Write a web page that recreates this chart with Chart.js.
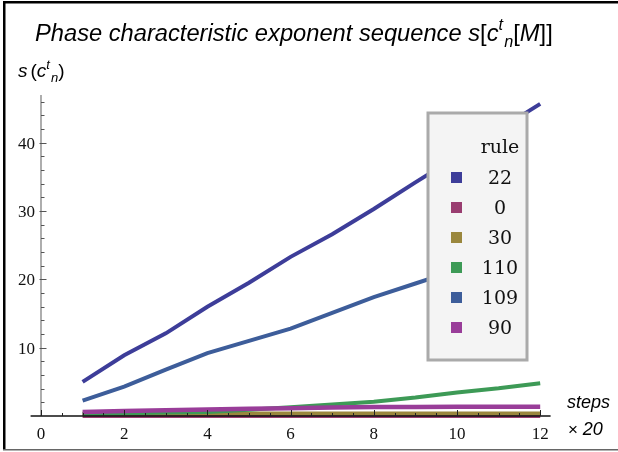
<!DOCTYPE html>
<html>
<head>
<meta charset="utf-8">
<script src="https://cdn.jsdelivr.net/npm/chart.js@4.4.1/dist/chart.umd.min.js"></script>
<style>
  html, body { margin: 0; padding: 0; background: #fff; }
  canvas { display: block; }
</style>
</head>
<body>
<canvas id="phaseChart" width="618" height="452"></canvas>
<script>
// data (steps are in units of 20)
const steps = [1, 2, 3, 4, 5, 6, 7, 8, 9, 10, 11, 12];
const rules = ['22', '0', '30', '110', '109', '90'];
const rule22 = [5.0, 8.9, 12.1, 16.0, 19.5, 23.3, 26.6, 30.3, 34.2, 38.0, 41.9, 45.7];
const rule0 = [0, 0, 0, 0, 0, 0, 0, 0, 0, 0, 0, 0];
const rule30 = [0.35, 0.35, 0.35, 0.35, 0.35, 0.35, 0.35, 0.35, 0.35, 0.35, 0.35, 0.35];
const rule110 = [0.3, 0.4, 0.5, 0.6, 0.9, 1.3, 1.7, 2.1, 2.7, 3.45, 4.05, 4.8];
const rule109 = [2.25, 4.3, 6.8, 9.2, 11.0, 12.8, 15.1, 17.4, 19.4, 21.4, 23.3];
const rule90 = [0.6, 0.75, 0.85, 0.95, 1.05, 1.15, 1.25, 1.3, 1.3, 1.35, 1.35, 1.35];
const xTicks = [0, 2, 4, 6, 8, 10, 12];
const yTicks = [10, 20, 30, 40];

const series = [rule22, rule0, rule30, rule110, rule109, rule90];
const colors = ['#3d3d99', '#993d70', '#9a873d', '#3d9a56', '#3d5d9a', '#993d99'];

const datasets = series.map((vals, i) => ({
  label: rules[i],
  data: vals.map((v, j) => ({ x: steps[j], y: v })),
  borderColor: colors[i],
  backgroundColor: colors[i],
  borderWidth: i === 5 ? 4.5 : 4,
  pointRadius: 0,
  tension: 0,
  clip: false,
  order: series.length - i   // later rules drawn on top
}));

// draw a run of text pieces (for super/subscripts)
function richText(ctx, parts, x, y, scale) {
  scale = scale || 1;
  let cx = x;
  parts.forEach(p => {
    ctx.font = p.style + ' ' + (p.size * scale) + 'px "Liberation Sans"';
    ctx.fillText(p.t, cx, y + (p.dy || 0) * scale);
    cx += ctx.measureText(p.t).width + (p.gap || 0) * scale;
  });
  return cx - x;
}

const titleParts = [
  { t: 'Phase characteristic exponent sequence s', style: 'italic', size: 19 },
  { t: '[', style: 'normal', size: 19 }, { t: 'c', style: 'italic', size: 19 },
  { t: 't', style: 'italic', size: 13, dy: -9, gap: 1 }, { t: 'n', style: 'italic', size: 13, dy: 5 },
  { t: '[', style: 'normal', size: 19 }, { t: 'M', style: 'italic', size: 19 }, { t: ']]', style: 'normal', size: 19 }
];

const decor = {
  id: 'decor',
  beforeDraw(chart) {
    const ctx = chart.ctx;
    ctx.save();
    ctx.fillStyle = '#fff';
    ctx.fillRect(0, 0, chart.width, chart.height);
    ctx.restore();
  },
  afterDatasetsDraw(chart) {
    const ctx = chart.ctx;
    const xs = chart.scales.x, ys = chart.scales.y;
    const x0 = xs.getPixelForValue(0), y0 = ys.getPixelForValue(0);
    ctx.save();

    // axes
    ctx.strokeStyle = '#777';
    ctx.lineWidth = 1.2;
    ctx.beginPath();
    ctx.moveTo(x0, y0);
    ctx.lineTo(x0, ys.getPixelForValue(ys.max));
    ctx.stroke();
    ctx.strokeStyle = '#111';
    ctx.lineWidth = 1.5;
    ctx.beginPath();
    ctx.moveTo(xs.getPixelForValue(xs.min), y0);
    ctx.lineTo(xs.getPixelForValue(xs.max), y0);
    ctx.stroke();

    // x ticks every 0.5, major every 2
    ctx.lineWidth = 1;
    ctx.strokeStyle = '#222';
    for (let v = 0; v <= 12; v += 0.5) {
      const px = Math.round(xs.getPixelForValue(v)) + 0.5;
      const major = v % 2 === 0;
      ctx.beginPath();
      ctx.moveTo(px, y0);
      ctx.lineTo(px, y0 - (major ? 6 : 3));
      ctx.stroke();
    }
    // y ticks every 2, major every 10
    ctx.strokeStyle = '#555';
    for (let v = 2; v <= 46; v += 2) {
      const py = Math.round(ys.getPixelForValue(v)) + 0.5;
      const major = v % 10 === 0;
      ctx.beginPath();
      ctx.moveTo(x0 - (major ? 1.5 : 0), py);
      ctx.lineTo(x0 + (major ? 5.5 : 3.5), py);
      ctx.stroke();
    }

    // tick labels
    ctx.fillStyle = '#111';
    ctx.font = '17px "Liberation Serif"';
    ctx.textAlign = 'center';
    ctx.textBaseline = 'alphabetic';
    xTicks.forEach(v => ctx.fillText(String(v), xs.getPixelForValue(v), 439));
    ctx.textAlign = 'right';
    yTicks.forEach(v => ctx.fillText(String(v), 35, ys.getPixelForValue(v) + 6));

    // axis labels
    ctx.textAlign = 'left';
    ctx.fillStyle = '#000';
    ctx.font = 'italic 18px "Liberation Sans"';
    ctx.fillText('steps', 567, 408);
    richText(ctx, [
      { t: '× ', style: 'normal', size: 17 },
      { t: '20', style: 'italic', size: 18 }
    ], 568, 435);

    richText(ctx, [
      { t: 's', style: 'italic', size: 19, gap: 3 }, { t: '(', style: 'normal', size: 19 },
      { t: 'c', style: 'italic', size: 19 },
      { t: 't', style: 'italic', size: 13, dy: -8, gap: 1 }, { t: 'n', style: 'italic', size: 13, dy: 5 },
      { t: ')', style: 'normal', size: 19 }
    ], 18, 77);

    // title, scaled to span the same width as the original
    ctx.save();
    ctx.globalAlpha = 0;
    const w = richText(ctx, titleParts, 0, 0);
    ctx.restore();
    richText(ctx, titleParts, 35, 41, 518 / w);

    // legend box
    const lx = 428, ly = 113, lw = 99, lh = 247;
    ctx.fillStyle = '#f4f4f4';
    ctx.fillRect(lx, ly, lw, lh);
    ctx.strokeStyle = '#aaa';
    ctx.lineWidth = 3;
    ctx.strokeRect(lx, ly, lw, lh);
    ctx.fillStyle = '#111';
    ctx.textAlign = 'center';
    ctx.font = '19px "DejaVu Serif"';
    ctx.textBaseline = 'middle';
    ctx.fillText('rule', 500, 148);
    chart.data.datasets.forEach((ds, i) => {
      const cy = 178 + i * 30;
      ctx.fillStyle = ds.borderColor;
      ctx.fillRect(451, cy - 6, 11, 11);
      ctx.fillStyle = '#111';
      ctx.fillText(ds.label, 500, cy + 1);
    });

    // frame
    ctx.fillStyle = '#000';
    ctx.fillRect(3, 1, 615, 2.5);
    ctx.fillRect(3, 1, 2.5, 449);
    ctx.fillStyle = '#666';
    ctx.fillRect(3, 449, 615, 1.5);
    ctx.restore();
  }
};

new Chart(document.getElementById('phaseChart'), {
  type: 'line',
  data: { datasets: datasets },
  options: {
    responsive: false,
    animation: false,
    layout: { padding: { left: 30.6, right: 67.4, top: 95, bottom: 36 } },
    scales: {
      x: { type: 'linear', min: -0.25, max: 12.25, display: false },
      y: { type: 'linear', min: 0, max: 47, display: false }
    },
    plugins: {
      legend: { display: false },
      title: { display: false },
      tooltip: { enabled: false }
    }
  },
  plugins: [decor]
});
</script>
</body>
</html>
